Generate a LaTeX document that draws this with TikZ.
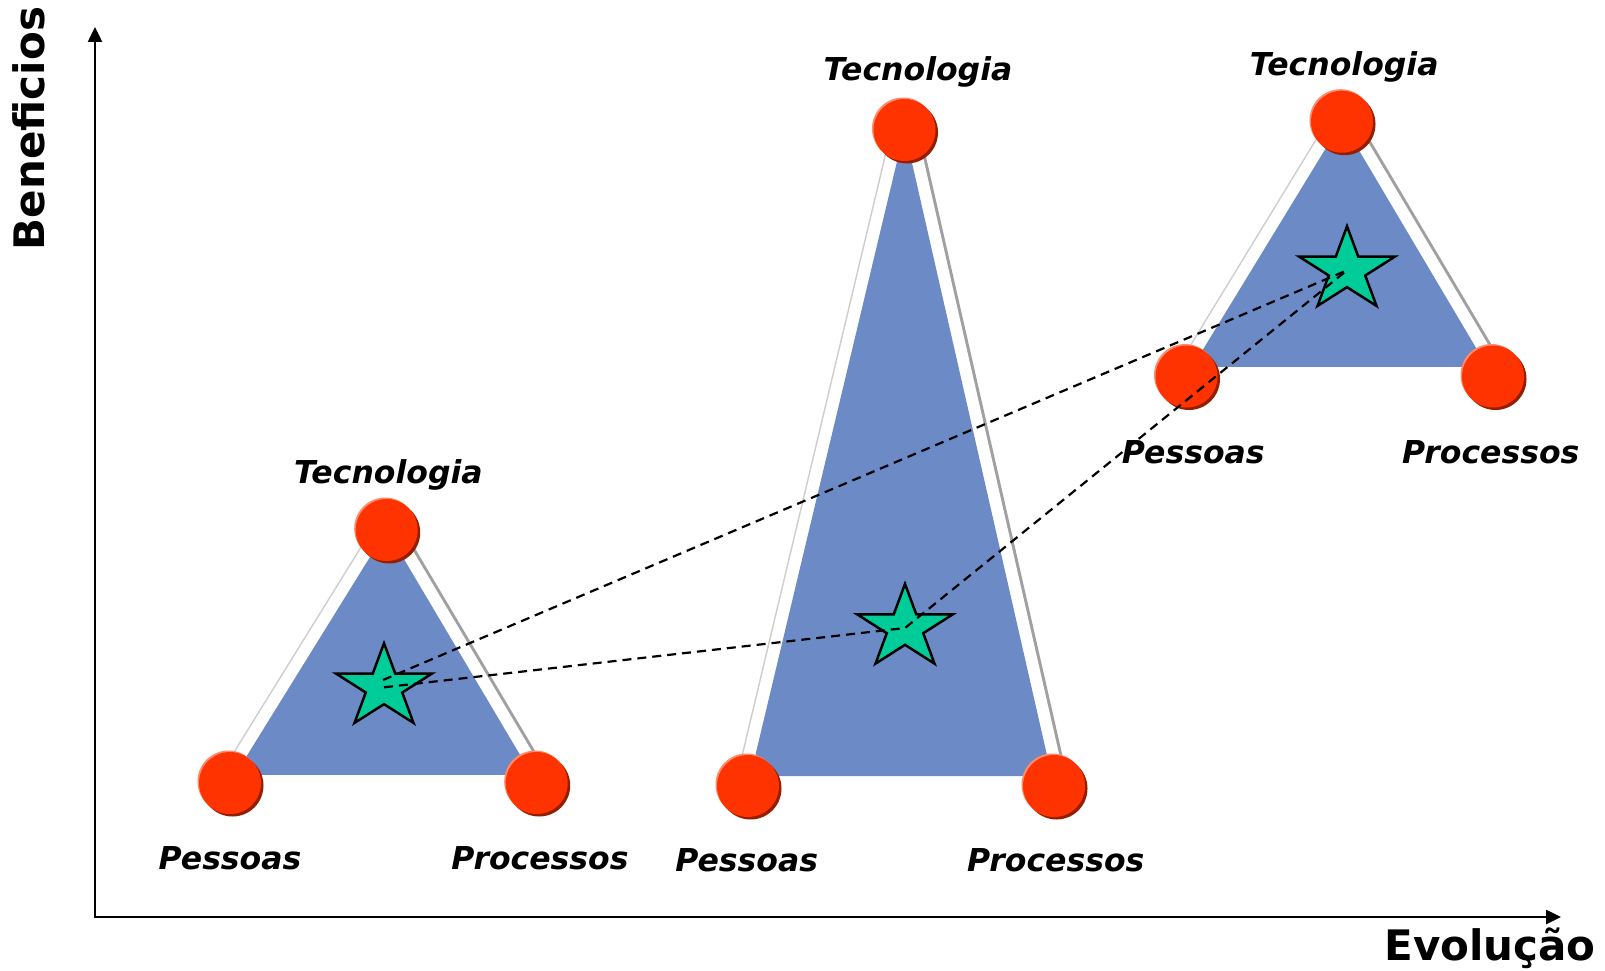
\documentclass[tikz,border=0pt]{standalone}
\usepackage{fontspec}
\setmainfont{DejaVu Sans}
\usetikzlibrary{arrows.meta,shapes.geometric,calc}
\definecolor{triblue}{RGB}{108,139,198}
\definecolor{vred}{RGB}{255,51,0}
\definecolor{vshadow}{RGB}{150,30,0}
\definecolor{vhigh}{RGB}{255,140,110}
\definecolor{stargreen}{RGB}{0,204,153}
\definecolor{lgray}{RGB}{205,205,205}
\definecolor{dgray}{RGB}{160,160,160}
\begin{document}
\begin{tikzpicture}[x=1pt,y=-1pt,
  axis/.style={line width=2.5pt, {Triangle[length=15pt,width=14pt]}-{Triangle[length=15pt,width=14pt]}},
  vertex/.style={circle, fill=vred, minimum size=62pt, inner sep=0pt},
  vshad/.style={fill=vshadow},
  vhl/.style={fill=vhigh},
  lbl/.style={font=\bfseries\itshape\fontsize{31.5}{36}\selectfont, anchor=base, inner sep=0pt},
  axlbl/.style={font=\bfseries\fontsize{42}{48}\selectfont, anchor=base, inner sep=0pt},
  starnode/.style={star, star points=5, star point ratio=2.618, minimum size=88pt, inner sep=0pt, xscale=1.14, draw=black, line width=2.5pt, fill=stargreen},
  link/.style={line width=2.2pt, dash pattern=on 9pt off 6pt},
  lside/.style={draw=lgray, line width=27pt},
  rside/.style={draw=dgray, line width=30pt},
  band/.style={draw=white, line width=24pt},
  tri/.style={fill=triblue}
]
\useasboundingbox[fill=white] (0,0) rectangle (1605,971);

% axes
\coordinate (O) at (95,917);
\coordinate (Ytip) at (95,27);
\coordinate (Xtip) at (1561,917);
\draw[axis] (Ytip) -- (O) -- (Xtip);
\node[axlbl, rotate=90] (ylab) at (44,128.5) {Beneficios};
\node[axlbl] (xlab) at (1490,960) {Evolução};

% vertex positions
\coordinate (pT1) at (386.7,530);
\coordinate (pL1) at (230,783);
\coordinate (pR1) at (536.7,783);
\coordinate (pT2) at (904.5,130);
\coordinate (pL2) at (748,786);
\coordinate (pR2) at (1054,786);
\coordinate (pT3) at (1342,121.7);
\coordinate (pL3) at (1186.5,376.5);
\coordinate (pR3) at (1493,376.5);

% triangles
\foreach \i/\f in {1/0.968, 2/0.985, 3/0.962}{
  \draw[lside] (pT\i) -- (pL\i);
  \draw[rside] (pT\i) -- (pR\i);
  \draw[band] (pT\i) -- (pL\i);
  \draw[band] (pT\i) -- (pR\i);
  \fill[tri] (pT\i) -- ($(pT\i)!\f!(pL\i)$) -- ($(pT\i)!\f!(pR\i)$) -- cycle;
}

% vertices
\foreach \p in {T1,L1,R1,T2,L2,R2,T3,L3,R3}{
  \fill[vshad] ($(p\p)+(2.5,2.5)$) circle[radius=31pt];
  \fill[vhl] ($(p\p)+(-1.5,-1.5)$) circle[radius=31pt];
  \node[vertex] (\p) at (p\p) {};
}

% stars
\node[starnode] (S1) at (384,687.3) {};
\node[starnode] (S2) at (905,628) {};
\node[starnode] (S3) at (1347,270.3) {};

% dashed links
\coordinate (S1up) at (383,680);
\draw[link] (S1up) -- (S3.center);
\draw[link] (S1.center) -- (S2.center) -- (S3.center);

% labels
\node[lbl] (t1) at (388.3,483.3) {Tecnologia};
\node[lbl] (a1) at (230,869.5) {Pessoas};
\node[lbl] (b1) at (540,869.5) {Processos};
\node[lbl] (t2) at (918,80.5) {Tecnologia};
\node[lbl] (a2) at (746.7,871) {Pessoas};
\node[lbl] (b2) at (1055.8,871) {Processos};
\node[lbl] (t3) at (1344.2,76) {Tecnologia};
\node[lbl] (a3) at (1193.3,463.7) {Pessoas};
\node[lbl] (b3) at (1490.8,463.7) {Processos};
\end{tikzpicture}
\end{document}
